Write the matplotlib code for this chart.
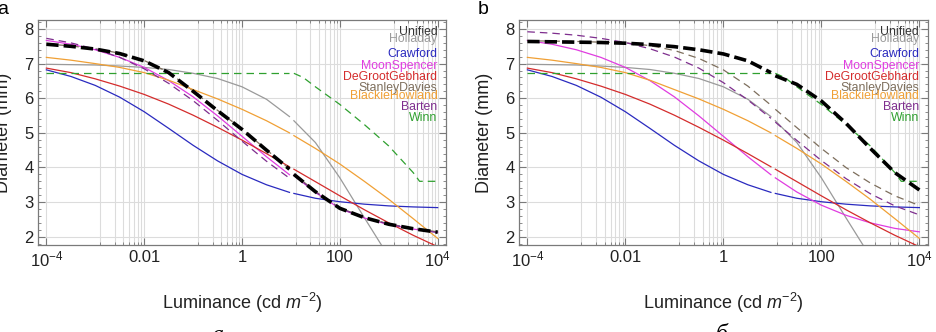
import matplotlib
matplotlib.use("Agg")
import matplotlib.pyplot as plt
import matplotlib.ticker as mticker
import numpy as np

plt.rcParams["font.family"] = ["Liberation Sans", "DejaVu Sans"]
plt.rcParams["mathtext.fontset"] = "custom"
plt.rcParams["mathtext.rm"] = "Liberation Sans"
plt.rcParams["mathtext.it"] = "Liberation Sans:italic"

# log10 luminance sample points; the source figure has a break just below 10 cd/m2
LOG_L_LO = [-4, -3.5, -3, -2.5, -2, -1.5, -1, -0.5, 0, 0.5, 0.97]
LOG_L_HI = [1.06, 1.5, 2, 2.5, 3, 3.5, 4]
LOG_L_WINN_HI = [1.06, 1.25, 1.5, 2, 2.5, 3, 3.5, 3.63, 4]

# pupil diameter (mm)
HOLLADAY_LO = [6.98, 6.97, 6.96, 6.93, 6.89, 6.83, 6.72, 6.57, 6.33, 5.97, 5.47]
HOLLADAY_HI = [5.35, 4.72, 3.70, 2.55, 1.42, 0.56, 0.13]
CRAWFORD_LO = [6.82, 6.63, 6.37, 6.03, 5.61, 5.13, 4.64, 4.19, 3.80, 3.50, 3.28]
CRAWFORD_HI = [3.25, 3.11, 3.01, 2.94, 2.89, 2.86, 2.84]
MOON_LO = [7.67, 7.56, 7.40, 7.18, 6.89, 6.51, 6.04, 5.49, 4.90, 4.31, 3.79]
MOON_A_HI = [3.77, 3.28, 2.81, 2.54, 2.35, 2.22, 2.13]
MOON_B_HI = [3.70, 3.29, 2.91, 2.62, 2.40, 2.24, 2.14]
DEGROOT_LO = [6.87, 6.74, 6.56, 6.35, 6.11, 5.83, 5.51, 5.16, 4.79, 4.40, 4.02]
DEGROOT_HI = [3.95, 3.59, 3.18, 2.78, 2.40, 2.04, 1.71]
STANLEY_A_LO = [7.57, 7.51, 7.43, 7.30, 7.09, 6.75, 6.21, 5.65, 5.11, 4.51, 3.96]
STANLEY_A_HI = [3.81, 3.31, 2.83, 2.56, 2.37, 2.24, 2.14]
STANLEY_B_LO = [7.66, 7.65, 7.64, 7.62, 7.60, 7.52, 7.38, 7.15, 6.82, 6.35, 5.80]
STANLEY_B_HI = [5.68, 5.15, 4.55, 4.00, 3.55, 3.18, 2.90]
BLACKIE_LO = [7.18, 7.10, 7.00, 6.89, 6.74, 6.52, 6.25, 5.98, 5.68, 5.35, 5.00]
BLACKIE_HI = [4.92, 4.55, 4.10, 3.60, 3.08, 2.52, 1.95]
BARTEN_A_LO = [7.73, 7.60, 7.42, 7.18, 6.85, 6.43, 5.93, 5.36, 4.76, 4.18, 3.69]
BARTEN_A_HI = [3.78, 3.29, 2.82, 2.55, 2.36, 2.22, 2.12]
BARTEN_B_LO = [7.92, 7.88, 7.82, 7.73, 7.61, 7.43, 7.19, 6.87, 6.45, 5.95, 5.42]
BARTEN_B_HI = [5.31, 4.78, 4.20, 3.68, 3.24, 2.89, 2.63]
WINN_LO = [6.74, 6.74, 6.74, 6.74, 6.74, 6.74, 6.74, 6.74, 6.74, 6.74, 6.74]
WINN_HI = [6.72, 6.60, 6.33, 5.82, 5.24, 4.62, 3.85, 3.60, 3.60]
UNIFIED_A_LO = [7.56, 7.50, 7.42, 7.29, 7.08, 6.74, 6.20, 5.64, 5.10, 4.50, 3.95]
UNIFIED_A_HI = [3.80, 3.30, 2.82, 2.55, 2.36, 2.23, 2.13]
UNIFIED_B_LO = [7.64, 7.63, 7.62, 7.61, 7.59, 7.55, 7.49, 7.40, 7.28, 7.08, 6.74]
UNIFIED_B_HI = [6.65, 6.40, 5.92, 5.28, 4.55, 3.85, 3.35]

MODELS = ["Unified", "Holladay", "Crawford", "MoonSpencer", "DeGrootGebhard",
          "StanleyDavies", "BlackieHowland", "Barten", "Winn"]
COLORS = {
    "Unified": "#000000", "Holladay": "#9a9a9a", "Crawford": "#2a2abf",
    "MoonSpencer": "#e03ce0", "DeGrootGebhard": "#d42c2c",
    "StanleyDavies": "#7d6e5c", "BlackieHowland": "#f0a035",
    "Barten": "#7e2e8e", "Winn": "#2fa02f",
}
TEXT_COLORS = dict(COLORS, Unified="#333333")
DASHED = {"StanleyDavies", "Barten", "Winn"}
LEGEND_Y = [0.948, 0.914, 0.849, 0.797, 0.747, 0.698, 0.664, 0.615, 0.566]

PANEL_A = {
    "Holladay": (HOLLADAY_LO, HOLLADAY_HI),
    "Crawford": (CRAWFORD_LO, CRAWFORD_HI),
    "MoonSpencer": (MOON_LO, MOON_A_HI),
    "DeGrootGebhard": (DEGROOT_LO, DEGROOT_HI),
    "StanleyDavies": (STANLEY_A_LO, STANLEY_A_HI),
    "BlackieHowland": (BLACKIE_LO, BLACKIE_HI),
    "Barten": (BARTEN_A_LO, BARTEN_A_HI),
    "Winn": (WINN_LO, WINN_HI),
    "Unified": (UNIFIED_A_LO, UNIFIED_A_HI),
}
PANEL_B = {
    "Holladay": (HOLLADAY_LO, HOLLADAY_HI),
    "Crawford": (CRAWFORD_LO, CRAWFORD_HI),
    "MoonSpencer": (MOON_LO, MOON_B_HI),
    "DeGrootGebhard": (DEGROOT_LO, DEGROOT_HI),
    "StanleyDavies": (STANLEY_B_LO, STANLEY_B_HI),
    "BlackieHowland": (BLACKIE_LO, BLACKIE_HI),
    "Barten": (BARTEN_B_LO, BARTEN_B_HI),
    "Winn": (WINN_LO, WINN_HI),
    "Unified": (UNIFIED_B_LO, UNIFIED_B_HI),
}

FRAME = "#7a7a7a"


def draw_panel(ax, panel, letter):
    for name, (lo, hi) in panel.items():
        x_hi = LOG_L_WINN_HI if name == "Winn" else LOG_L_HI
        for xs, ys in ((LOG_L_LO, lo), (x_hi, hi)):
            x = np.power(10.0, xs)
            if name == "Unified":
                ax.plot(x, ys, color="black", lw=2.6, dashes=(3.4, 1.4),
                        zorder=5, solid_capstyle="butt")
            elif name in DASHED:
                ax.plot(x, ys, color=COLORS[name], lw=0.9, dashes=(6, 4), zorder=3)
            else:
                ax.plot(x, ys, color=COLORS[name], lw=0.9, zorder=3)

    ax.set_xscale("log")
    ax.set_xlim(10 ** -4.165, 10 ** 4.17)
    ax.set_ylim(1.76, 8.26)

    ax.xaxis.set_major_locator(mticker.FixedLocator([1e-4, 1e-2, 1, 1e2, 1e4]))
    ax.xaxis.set_major_formatter(mticker.FixedFormatter(
        [r"$10^{-4}$", "0.01", "1", "100", r"$10^{4}$"]))
    minor = [k / 8 * 10.0 ** j for j in (-2, 0, 2, 4) for k in range(1, 8)]
    ax.xaxis.set_minor_locator(mticker.FixedLocator(minor))
    ax.xaxis.set_minor_formatter(mticker.NullFormatter())
    ax.yaxis.set_major_locator(mticker.MultipleLocator(1))
    ax.yaxis.set_minor_locator(mticker.MultipleLocator(0.2))

    ax.xaxis.grid(True, which="both", color="#dcdcdc", lw=0.8)
    ax.yaxis.grid(True, which="major", color="#dcdcdc", lw=0.8)
    ax.set_axisbelow(True)

    ax.tick_params(which="both", direction="in", top=True, right=True,
                   color=FRAME, labelsize=12, pad=3.5, labelcolor="#222222")
    ax.tick_params(which="major", length=5, width=0.8)
    ax.tick_params(which="minor", length=2.5, width=0.6)
    for sp in ax.spines.values():
        sp.set_color(FRAME)
        sp.set_linewidth(0.9)

    ax.set_xlabel(r"Luminance (cd $m^{-2}$)", fontsize=13, color="#222222")
    ax.xaxis.set_label_coords(0.5, -0.205)
    ax.set_ylabel("Diameter (mm)", fontsize=13, color="#222222")
    ax.yaxis.set_label_coords(-0.064, 0.5)

    for name, y in zip(MODELS, LEGEND_Y):
        ax.text(0.979, y, name, transform=ax.transAxes, ha="right", va="center",
                fontsize=8.8, color=TEXT_COLORS[name])

    ax.text(-0.102, 1.045, letter, transform=ax.transAxes, fontsize=14,
            ha="left", va="center")


fig = plt.figure(figsize=(9.36, 3.32), dpi=100)
ax_a = fig.add_axes([38.3 / 936, 87 / 332, 407.7 / 936, 225 / 332])
ax_b = fig.add_axes([519.3 / 936, 87 / 332, 408.4 / 936, 225 / 332])
draw_panel(ax_a, PANEL_A, "a")
draw_panel(ax_b, PANEL_B, "b")

# captions below each panel (cut off by the bottom edge in the source)
fig.text(217 / 936, -9 / 332, "а", fontsize=17, style="italic",
         family="Liberation Serif", ha="center", va="baseline")
fig.text(722 / 936, -8 / 332, "б", fontsize=17, style="italic",
         family="Liberation Serif", ha="center", va="baseline")

fig.savefig("out.png", dpi=100)
